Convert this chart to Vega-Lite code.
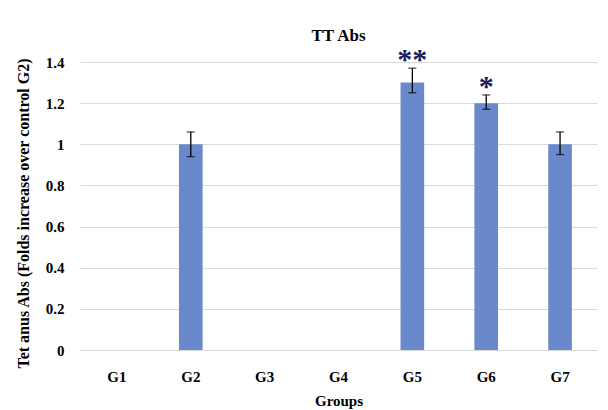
{
  "$schema": "https://vega.github.io/schema/vega-lite/v6.json",
  "autosize": {"type": "none"},
  "padding": {"left": 80, "top": 62, "right": 11, "bottom": 60},
  "width": 517,
  "height": 288,
  "background": "white",
  "title": {"text": "TT Abs", "font": "Liberation Serif", "fontSize": 17, "fontWeight": "bold", "color": "#000000", "offset": 0, "anchor": "middle"},
  "data": {"values": [
    {"group": "G1", "value": 0, "lo": null, "hi": null, "sig": ""},
    {"group": "G2", "value": 1.0, "lo": 0.94, "hi": 1.06, "sig": ""},
    {"group": "G3", "value": 0, "lo": null, "hi": null, "sig": ""},
    {"group": "G4", "value": 0, "lo": null, "hi": null, "sig": ""},
    {"group": "G5", "value": 1.3, "lo": 1.25, "hi": 1.37, "sig": "**"},
    {"group": "G6", "value": 1.2, "lo": 1.17, "hi": 1.24, "sig": "*"},
    {"group": "G7", "value": 1.0, "lo": 0.95, "hi": 1.06, "sig": ""}
  ]},
  "encoding": {
    "x": {"field": "group", "type": "nominal", "sort": null,
      "scale": {"paddingInner": 0.68, "paddingOuter": 0.34},
      "axis": {"title": "Groups", "labelAngle": 0, "labelFont": "Liberation Serif", "labelFontSize": 15, "labelFontWeight": "bold", "labelColor": "#000000", "labelPadding": 19,
        "titleFont": "Liberation Serif", "titleFontSize": 15, "titleFontWeight": "bold", "titleColor": "#000000", "titlePadding": 9,
        "ticks": false, "domainColor": "#d9d9d9", "domainWidth": 1}}
  },
  "layer": [
    {
      "mark": {"type": "bar", "color": "#6a89cc"},
      "encoding": {
        "y": {"field": "value", "type": "quantitative",
          "scale": {"domain": [0, 1.4]},
          "axis": {"title": "Tet anus  Abs (Folds increase over control G2)", "values": [0, 0.2, 0.4, 0.6, 0.8, 1, 1.2, 1.4], "format": "~g",
            "labelFont": "Liberation Serif", "labelFontSize": 15, "labelFontWeight": "bold", "labelColor": "#000000", "labelPadding": 16,
            "titleFont": "Liberation Serif", "titleFontSize": 16, "titleFontWeight": "bold", "titleColor": "#000000", "titlePadding": 14, "titleY": 151,
            "ticks": false, "domain": false, "gridColor": "#d9d9d9", "gridWidth": 1}}
      }
    },
    {
      "transform": [{"filter": "datum.lo != null"}],
      "mark": {"type": "rule", "color": "#000000", "strokeWidth": 1.3},
      "encoding": {"y": {"field": "lo", "type": "quantitative"}, "y2": {"field": "hi"}}
    },
    {
      "transform": [{"filter": "datum.lo != null"}],
      "mark": {"type": "tick", "color": "#000000", "thickness": 1.3, "size": 8},
      "encoding": {"y": {"field": "lo", "type": "quantitative"}}
    },
    {
      "transform": [{"filter": "datum.lo != null"}],
      "mark": {"type": "tick", "color": "#000000", "thickness": 1.3, "size": 8},
      "encoding": {"y": {"field": "hi", "type": "quantitative"}}
    },
    {
      "transform": [{"filter": "datum.sig != ''"}],
      "mark": {"type": "text", "font": "Liberation Serif", "fontSize": 30, "fontWeight": "bold", "color": "#1c1c5c", "baseline": "middle", "dy": -8},
      "encoding": {"y": {"field": "hi", "type": "quantitative"}, "text": {"field": "sig"}}
    }
  ],
  "config": {"view": {"stroke": null}}
}
